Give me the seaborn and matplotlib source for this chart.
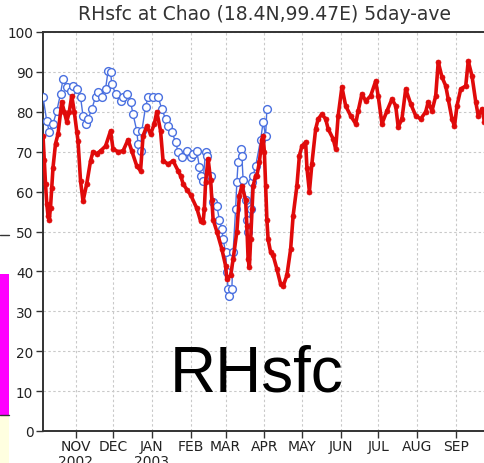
import numpy as np
import pandas as pd
import matplotlib
matplotlib.use("Agg")
import matplotlib.pyplot as plt
from matplotlib.patches import Rectangle
from matplotlib.lines import Line2D
import seaborn as sns

# Surface relative humidity (%), 5-day running mean, station Chao (18.4N, 99.47E)
record_start = "2002-10-06"
record_end = "2003-09-30"

# days since record_start, and RH for the red (filled) series
red_day = [0, 1, 2, 3, 4, 5, 6, 7, 8, 10, 12, 15, 17, 19, 21, 23, 25, 27, 28, 30,
           32, 35, 38, 40, 43, 46, 50, 54, 56, 60, 64, 68, 71, 75, 78, 80, 83, 86,
           89, 91, 94, 96, 100, 104, 108, 110, 112, 115, 118, 123, 126, 128, 129,
           130, 132, 134, 135, 136, 139, 143, 146, 147, 150, 152, 155, 157, 159,
           162, 163, 164, 165, 166, 167, 168, 170, 171, 173, 175, 176, 177, 178,
           179, 180, 182, 184, 187, 190, 192, 195, 198, 200, 203, 205, 207, 210,
           211, 213, 215, 218, 220, 223, 226, 228, 232, 234, 236, 239, 242, 246,
           250, 252, 255, 258, 262, 266, 268, 271, 275, 279, 282, 284, 287, 290,
           294, 298, 302, 306, 308, 311, 314, 316, 319, 322, 324, 327, 329, 331,
           334, 338, 340, 343, 346, 348, 351, 353]
red_rh = [74, 68, 62, 57, 54, 53, 56, 61, 66, 72, 74.4, 82.5, 80, 77.5, 80, 84, 80,
          75, 72.7, 62.7, 57.6, 62, 67.7, 70, 69.5, 70.2, 71.4, 75.2, 70.7, 70,
          70.2, 73, 70.2, 66.4, 65.2, 74, 76.4, 74.4, 77, 80, 75.2, 67.7, 66.9,
          67.7, 65.2, 64, 62, 60.5, 59.2, 55.8, 52.6, 52.4, 55.6, 62.4, 68.2, 63,
          58, 53, 50, 45.6, 41.4, 38, 39, 43, 50, 59, 61.4, 58, 51.4, 43, 41, 48,
          55.6, 61.4, 64, 64, 67.4, 73, 74, 70, 61.4, 53, 48, 44.8, 44, 40.6, 36.8,
          36.3, 39, 45.6, 54, 61.4, 69, 71.4, 72.4, 66, 60, 67, 75.7, 78.2, 79.4,
          78.2, 75.7, 73.2, 70.7, 79, 86.2, 81.5, 79, 77, 80.2, 84.5, 82.7, 84,
          87.7, 84, 77, 80.2, 83.2, 81.5, 76.2, 78.2, 85.7, 82, 79, 78.2, 80, 82.5,
          80.2, 84, 92.5, 88.7, 86.5, 83.2, 78.2, 76.4, 81.5, 85.7, 86.5, 92.7, 89,
          82.5, 79, 80.7, 77.4]

# days since record_start, and RH for the blue (open) series
blue_day = [0, 3, 5, 8, 11, 14, 16, 19, 22, 24, 27, 30, 32, 34, 36, 39, 42, 44, 47,
            50, 52, 54, 55, 58, 62, 64, 67, 70, 72, 75, 76, 78, 79, 82, 84, 88, 92,
            95, 98, 100, 103, 106, 108, 111, 115, 118, 120, 123, 125, 126, 128, 130,
            131, 134, 136, 139, 141, 143, 144, 146, 147, 148, 149, 151, 152, 154,
            155, 156, 158, 159, 160, 162, 163, 164, 166, 167, 168, 170, 174, 176,
            178, 179]
blue_rh = [83.7, 77.7, 75, 77, 80.2, 84.5, 88.2, 86.2, 85.2, 86.5, 85.7, 83.7, 79,
           77, 78.2, 80.7, 83.7, 85, 83.7, 85.7, 90.2, 90, 87, 84.5, 82.7, 83.7,
           84.5, 82.5, 79.4, 75.2, 72, 70.2, 75.2, 81.2, 83.7, 83.7, 83.7, 80.7,
           78.2, 76.4, 75, 72.4, 70, 68.7, 70.2, 68.7, 69.4, 70.2, 66.2, 64, 62.7,
           70, 69, 64, 57.4, 56.4, 53, 50.6, 48, 44.8, 39.8, 35.6, 33.8, 35.6, 44.8,
           55.6, 62.4, 67.4, 70.7, 69, 63, 58, 53, 50, 55.6, 62.4, 64, 66.4, 73,
           77.4, 74, 80.7]

month_starts = ["2002-11-01", "2002-12-01", "2003-01-01", "2003-02-01",
                "2003-03-01", "2003-04-01", "2003-05-01", "2003-06-01",
                "2003-07-01", "2003-08-01", "2003-09-01"]
month_labels = ["NOV\n2002", "DEC", "JAN\n2003", "FEB", "MAR", "APR", "MAY",
                "JUN", "JUL", "AUG", "SEP"]
rh_ticks = list(range(0, 101, 10))

title_text = "RHsfc at Chao (18.4N,99.47E) 5day-ave"
caption_text = "RHsfc"

sns.set_theme(style="white")
plt.rcParams["font.family"] = ["DejaVu Sans"]

W, H = 484, 464
fig = plt.figure(figsize=(W / 100, H / 100), dpi=100)
fig.patch.set_facecolor("white")
ax = fig.add_axes([43 / W, (H - 432) / H, (492 - 43) / W, (432 - 33) / H])

t0 = pd.Timestamp(record_start)
red = pd.DataFrame({"date": t0 + pd.to_timedelta(red_day, unit="D"), "rh": red_rh})
blue = pd.DataFrame({"date": t0 + pd.to_timedelta(blue_day, unit="D"), "rh": blue_rh})

blue_c = "#4a70e0"
red_c = "#e00a0a"

sns.lineplot(data=blue, x="date", y="rh", ax=ax, color=blue_c, linewidth=1.0,
             marker="o", markersize=5.6, markerfacecolor="white",
             markeredgecolor=blue_c, markeredgewidth=1.0, zorder=3)
sns.lineplot(data=red, x="date", y="rh", ax=ax, color=red_c, linewidth=2.6,
             marker="o", markersize=3.6, markerfacecolor=red_c,
             markeredgecolor=red_c, markeredgewidth=0.5, zorder=4)

ax.set_xlim(pd.Timestamp(record_start), pd.Timestamp(record_end))
ax.set_ylim(0, 100)
ax.set_xticks(pd.to_datetime(month_starts))
ax.set_xticklabels(month_labels, fontsize=10, color="#222222", linespacing=1.05)
ax.set_yticks(rh_ticks)
ax.set_yticklabels([str(v) for v in rh_ticks], fontsize=9.8, color="#222222")
ax.set_xlabel("")
ax.set_ylabel("")

ax.grid(True, color="#c9c9c9", linestyle=(0, (2.2, 2.2)), linewidth=0.8)
ax.set_axisbelow(True)
for side in ["left", "top", "bottom"]:
    ax.spines[side].set_color("#333333")
    ax.spines[side].set_linewidth(1.4)
ax.spines["right"].set_visible(False)
ax.tick_params(axis="both", direction="out", length=5, width=1,
               color="#333333", bottom=True, left=True)
ax.tick_params(axis="x", pad=1)
ax.tick_params(axis="y", pad=2)

fig.text(264 / W, 1 - 14 / H, title_text, ha="center", va="center",
         fontsize=13.5, color="#333333")
fig.text(257 / W, 1 - 375 / H, caption_text, ha="center", va="center",
         fontsize=46, family="Liberation Sans", color="black")

# slide fragments along the left margin
fig.patches.append(Rectangle((0, 1 - 416 / H), 9 / W, (416 - 275) / H,
                             transform=fig.transFigure, facecolor="#ff00ff",
                             edgecolor="none", zorder=0))
fig.patches.append(Rectangle((0, 0), 9 / W, (464 - 417) / H,
                             transform=fig.transFigure, facecolor="#ffffe0",
                             edgecolor="none", zorder=0))
for yy in (236, 416):
    fig.lines.append(Line2D([0, 9 / W], [1 - yy / H, 1 - yy / H],
                            transform=fig.transFigure, color="#333333", lw=1))

fig.savefig("out.png", dpi=100)
